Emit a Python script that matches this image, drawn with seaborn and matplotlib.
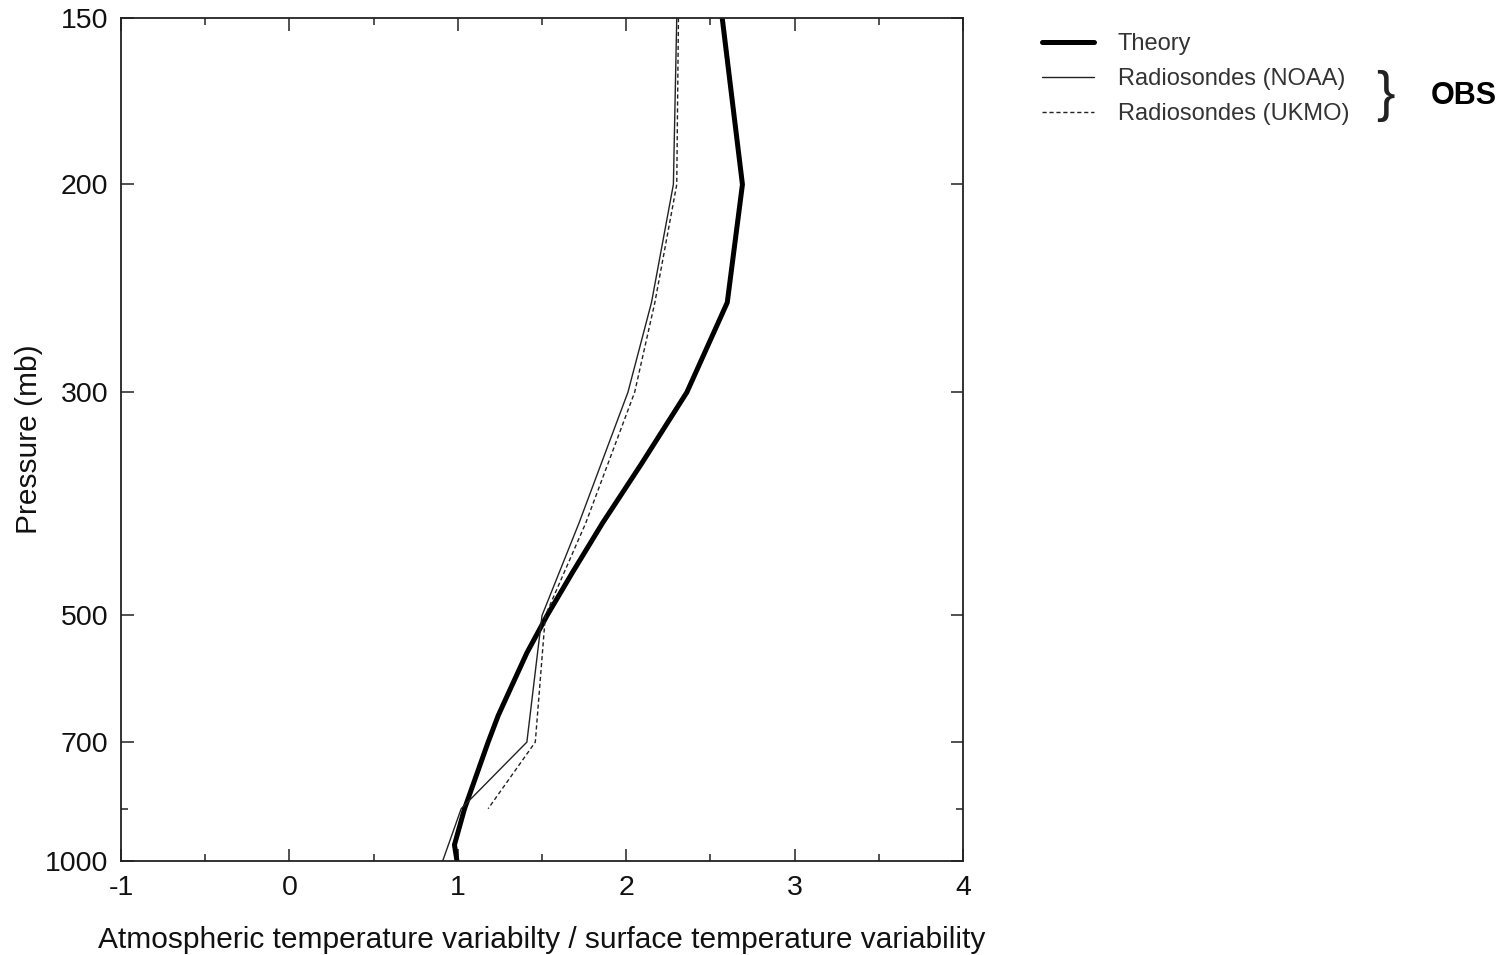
# plot.py
import numpy as np
import pandas as pd
import seaborn as sns
import matplotlib.pyplot as plt
from matplotlib.ticker import FixedLocator, NullFormatter

# Data
theory_p = [150, 200, 250, 300, 350, 400, 450, 500, 550, 600, 650, 700, 850, 950, 1000]
theory_x = [2.57, 2.69, 2.60, 2.36, 2.09, 1.86, 1.68, 1.53, 1.41, 1.32, 1.24, 1.18, 1.04, 0.98, 0.995]

noaa_p = [150, 200, 250, 300, 400, 500, 700, 850, 1000]
noaa_x = [2.30, 2.28, 2.15, 2.01, 1.72, 1.50, 1.41, 1.02, 0.91]

ukmo_p = [150, 200, 250, 300, 400, 500, 700, 850]
ukmo_x = [2.31, 2.30, 2.17, 2.05, 1.76, 1.52, 1.46, 1.18]

y_major = [150, 200, 300, 500, 700, 1000]
y_minor = [850]

sns.set_style("ticks")
plt.rcParams["font.family"] = ["Liberation Sans", "DejaVu Sans"]

fig = plt.figure(figsize=(15.05, 9.55), dpi=100)
ax = fig.add_axes([0.0804, 0.0984, 0.5595, 0.8827])

# pressure axis: power-law scale
k = 0.35
ax.set_yscale(
    "function",
    functions=(
        lambda p: -np.power(np.clip(p, 1e-6, None), -k),
        lambda v: np.power(-np.clip(v, None, -1e-12), -1.0 / k),
    ),
)

sns.lineplot(x=theory_x, y=theory_p, sort=False, estimator=None, ax=ax,
             color="black", linewidth=3.6, label="Theory")
sns.lineplot(x=noaa_x, y=noaa_p, sort=False, estimator=None, ax=ax,
             color="#222222", linewidth=1.0, label="Radiosondes (NOAA)")
sns.lineplot(x=ukmo_x, y=ukmo_p, sort=False, estimator=None, ax=ax,
             color="#222222", linewidth=1.0, linestyle=(0, (3, 2)),
             label="Radiosondes (UKMO)")

ax.set_xlim(-1, 4)
ax.set_ylim(1000, 150)
ax.set_xticks([-1, 0, 1, 2, 3, 4])
ax.set_xticklabels(["-1", "0", "1", "2", "3", "4"])
ax.xaxis.set_minor_locator(FixedLocator(np.arange(-0.5, 4, 1.0)))
ax.yaxis.set_major_locator(FixedLocator(y_major))
ax.set_yticklabels([str(v) for v in y_major])
ax.yaxis.set_minor_locator(FixedLocator(y_minor))
ax.yaxis.set_minor_formatter(NullFormatter())

ax.tick_params(which="both", direction="in", top=True, right=True,
               color="#222222", width=1.1)
ax.tick_params(which="major", length=9, labelsize=20.5, labelcolor="#111111")
ax.tick_params(axis="y", which="major", pad=9)
ax.tick_params(axis="x", which="major", pad=10)
ax.tick_params(which="minor", length=5)
for s in ax.spines.values():
    s.set_color("#222222")
    s.set_linewidth(1.3)

ax.set_xlabel("Atmospheric temperature variabilty / surface temperature variability",
              fontsize=21.5, color="#111111")
ax.set_ylabel("Pressure (mb)", fontsize=21.5, color="#111111")
ax.xaxis.set_label_coords(0.5, -0.077)
ax.yaxis.set_label_coords(-0.093, 0.5)

leg = ax.legend(loc="upper left", bbox_to_anchor=(0.6925, 0.965),
                bbox_transform=fig.transFigure, frameon=False, fontsize=17,
                handlelength=2.2, handletextpad=1.0, labelspacing=0.55,
                borderaxespad=0, borderpad=0)
for t in leg.get_texts():
    t.set_color("#333333")

fig.text(0.9205, 0.9, "}", fontsize=40, ha="center", va="center", color="#222222")
fig.text(0.9945, 0.9, "OBS", fontsize=22, fontweight="bold", ha="right",
         va="center", color="black")

fig.savefig("out.png", dpi=100)
